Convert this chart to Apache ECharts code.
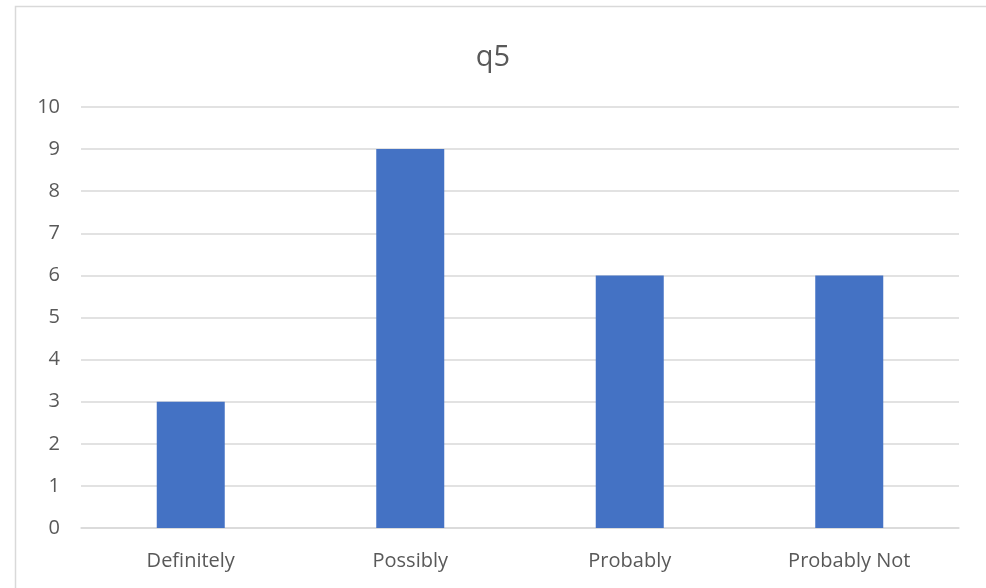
<!DOCTYPE html>
<html>
<head>
<meta charset="utf-8">
<script src="https://cdn.jsdelivr.net/npm/echarts@6/dist/echarts.min.js"></script>
<style>
  html, body { margin: 0; padding: 0; background: #fff; }
  #chart { width: 986px; height: 588px; }
</style>
</head>
<body>
<div id="chart"></div>
<script>
// Survey answers for q5
const categories = ['Definitely', 'Possibly', 'Probably', 'Probably Not'];
const counts = [3, 9, 6, 6];
const yTicks = { min: 0, max: 10, interval: 1 };

const chart = echarts.init(document.getElementById('chart'), null, { renderer: 'canvas' });
const font = '"Open Sans", "Noto Sans", sans-serif';

chart.setOption({
  animation: false,
  backgroundColor: '#ffffff',
  graphic: [{
    type: 'rect',
    shape: { x: 15.5, y: 6.5, width: 1000, height: 1000 },
    style: { fill: 'none', stroke: '#d9d9d9', lineWidth: 1.5 },
    silent: true
  }],
  title: {
    text: 'q5',
    left: 'center',
    top: 38,
    textStyle: { color: '#595959', fontSize: 29, fontWeight: 'normal', fontFamily: font }
  },
  grid: { left: 81, right: 27, top: 107, bottom: 60 },
  xAxis: {
    type: 'category',
    data: categories,
    axisLine: { lineStyle: { color: '#d9d9d9', width: 1.5 } },
    axisTick: { show: false },
    axisLabel: { color: '#595959', fontSize: 20, margin: 23, fontFamily: font }
  },
  yAxis: {
    type: 'value',
    min: yTicks.min,
    max: yTicks.max,
    interval: yTicks.interval,
    axisLine: { show: false },
    axisTick: { show: false },
    axisLabel: { color: '#595959', fontSize: 20, margin: 21, fontFamily: font },
    splitLine: { lineStyle: { color: '#d9d9d9', width: 1.5 } }
  },
  series: [{
    type: 'bar',
    data: counts,
    barWidth: 68,
    itemStyle: { color: '#4472C4' }
  }]
});
</script>
</body>
</html>
